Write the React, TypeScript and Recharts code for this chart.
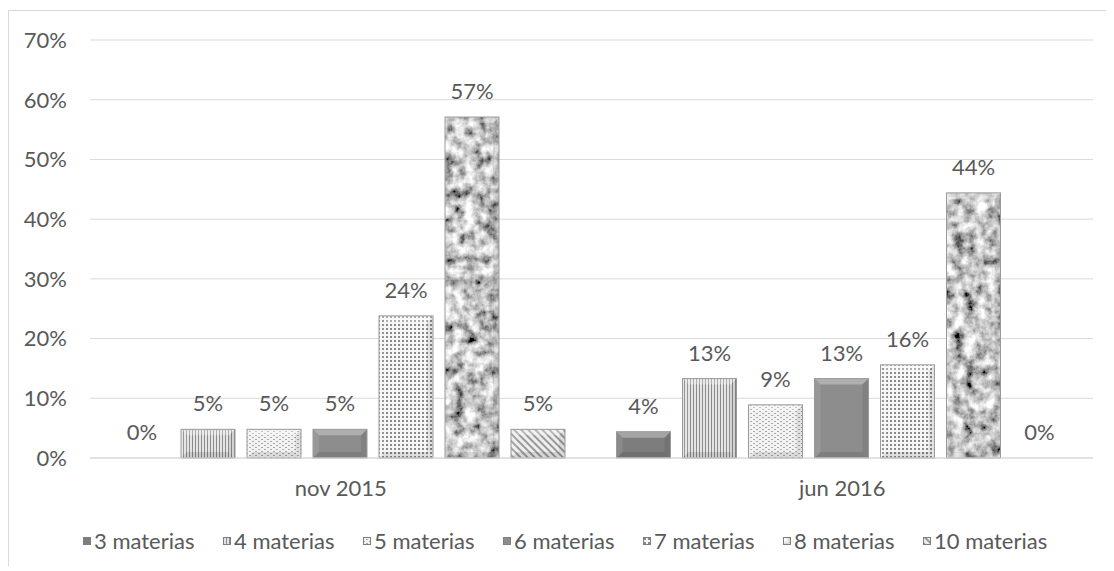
import React from 'react';
import { BarChart, Bar, XAxis, YAxis, CartesianGrid, Legend, LabelList } from 'recharts';

const FONT = 'Lato, "Open Sans", sans-serif';
const TEXT = '#595959';
const GRID = '#d9d9d9';

const categories = ['nov 2015', 'jun 2016'];
const seriesNames = ['3 materias', '4 materias', '5 materias', '6 materias', '7 materias', '8 materias', '10 materias'];
// share of students per number of subjects, one array per period
const nov2015 = [0, 0.048, 0.048, 0.048, 0.238, 0.571, 0.048];
const jun2016 = [0.044, 0.133, 0.089, 0.133, 0.156, 0.444, 0];
const yTicks = [0, 0.1, 0.2, 0.3, 0.4, 0.5, 0.6, 0.7];

const periods = [nov2015, jun2016];
const data = categories.map((name, i) => {
  const row: Record<string, number | string> = { name };
  seriesNames.forEach((_, j) => {
    row[`s${j}`] = periods[i][j];
  });
  return row;
});

const pct = (v: number) => `${Math.round(v * 100)}%`;

// bar with a small bevel, like the office "bevel" effect
const BevelBar = (props: any) => {
  const { x, y, width: w, height: h, fill } = props;
  if (!h || h <= 0) return null;
  const b = Math.min(6, h / 3, w / 3);
  return (
    <g>
      <rect x={x} y={y} width={w} height={h} fill={fill} />
      <polygon points={`${x},${y} ${x + w},${y} ${x + w - b},${y + b} ${x + b},${y + b}`} fill="#fff" fillOpacity={0.3} />
      <polygon points={`${x},${y} ${x + b},${y + b} ${x + b},${y + h - b} ${x},${y + h}`} fill="#fff" fillOpacity={0.1} />
      <polygon points={`${x + w},${y} ${x + w - b},${y + b} ${x + w - b},${y + h - b} ${x + w},${y + h}`} fill="#000" fillOpacity={0.08} />
      <polygon points={`${x},${y + h} ${x + b},${y + h - b} ${x + w - b},${y + h - b} ${x + w},${y + h}`} fill="#000" fillOpacity={0.1} />
      <rect x={x} y={y} width={w} height={h} fill="none" stroke="#999" strokeWidth={1} />
    </g>
  );
};

const renderLegend = () => (
  <div style={{ display: 'flex', alignItems: 'center', height: 24, paddingLeft: 74, fontFamily: FONT, fontSize: 22, color: TEXT }}>
    {seriesNames.map((n, i) => (
      <div key={n} style={{ width: 140, flex: 'none', display: 'flex', alignItems: 'center' }}>
        <svg width={8} height={8} style={{ marginRight: 3 }}>
          <rect x={0.5} y={0.5} width={7} height={7} fill={`url(#p${i})`} stroke="#7f7f7f" strokeWidth={1} />
        </svg>
        <span style={{ whiteSpace: 'nowrap', lineHeight: '24px' }}>{n}</span>
      </div>
    ))}
  </div>
);

export default function App() {
  return (
    <div style={{ position: 'relative', top: 2, width: 1101, height: 556, border: `1px solid ${GRID}`, background: '#fff' }}>
      <BarChart
        width={1101}
        height={556}
        data={data}
        margin={{ top: 29, right: 17, bottom: 14, left: 0 }}
        barCategoryGap={25}
        barGap={12}
      >
        <defs>
          <filter id="granite" x="0" y="0" width="100%" height="100%">
            <feTurbulence type="fractalNoise" baseFrequency="0.09" numOctaves={4} seed={4} />
            <feColorMatrix type="matrix" values="1 0 0 0 0  1 0 0 0 0  1 0 0 0 0  0 0 0 0 1" />
            <feComponentTransfer>
              <feFuncR type="linear" slope={1.8} intercept={-0.33} />
              <feFuncG type="linear" slope={1.8} intercept={-0.33} />
              <feFuncB type="linear" slope={1.8} intercept={-0.33} />
            </feComponentTransfer>
          </filter>
          <pattern id="p0" patternUnits="userSpaceOnUse" width={4} height={4}>
            <rect width={4} height={4} fill="#7d7d7d" />
          </pattern>
          <pattern id="p1" patternUnits="userSpaceOnUse" width={3} height={3}>
            <rect width={3} height={3} fill="#e4e4e4" />
            <rect width={1} height={3} fill="#8c8c8c" />
          </pattern>
          <pattern id="p2" patternUnits="userSpaceOnUse" width={6} height={4}>
            <rect width={6} height={4} fill="#f2f2f2" />
            <rect x={0} y={0} width={2} height={1} fill="#a8a8a8" />
            <rect x={3} y={2} width={2} height={1} fill="#a8a8a8" />
          </pattern>
          <pattern id="p3" patternUnits="userSpaceOnUse" width={4} height={4}>
            <rect width={4} height={4} fill="#8d8d8d" />
          </pattern>
          <pattern id="p4" patternUnits="userSpaceOnUse" width={4} height={4}>
            <rect width={4} height={4} fill="#f6f6f6" />
            <rect x={1} y={1} width={2} height={2} fill="#8a8a8a" />
          </pattern>
          <pattern id="p5" patternUnits="userSpaceOnUse" width={1200} height={600}>
            <rect width={1200} height={600} fill="#999" filter="url(#granite)" />
          </pattern>
          <pattern id="p6" patternUnits="userSpaceOnUse" width={5} height={5} patternTransform="rotate(-45)">
            <rect width={5} height={5} fill="#eeeeee" />
            <rect width={2} height={5} fill="#9a9a9a" />
          </pattern>
        </defs>
        <CartesianGrid vertical={false} stroke={GRID} />
        <XAxis
          dataKey="name"
          height={71}
          axisLine={{ stroke: GRID }}
          tickLine={false}
          tickMargin={16}
          tick={{ fill: TEXT, fontSize: 22, fontFamily: FONT }}
        />
        <YAxis
          width={81}
          domain={[0, 0.7]}
          ticks={yTicks}
          tickFormatter={pct}
          axisLine={false}
          tickLine={false}
          tickMargin={17}
          tick={{ fill: TEXT, fontSize: 22, fontFamily: FONT }}
        />
        <Legend verticalAlign="bottom" content={renderLegend} />
        {seriesNames.map((n, i) => (
          <Bar key={n} dataKey={`s${i}`} name={n} fill={`url(#p${i})`} shape={<BevelBar />} isAnimationActive={false}>
            <LabelList
              dataKey={`s${i}`}
              position="top"
              offset={18}
              formatter={(v: any) => pct(Number(v))}
              fill={TEXT}
              style={{ fontSize: 22, fontFamily: FONT, fill: TEXT }}
            />
          </Bar>
        ))}
      </BarChart>
    </div>
  );
}
